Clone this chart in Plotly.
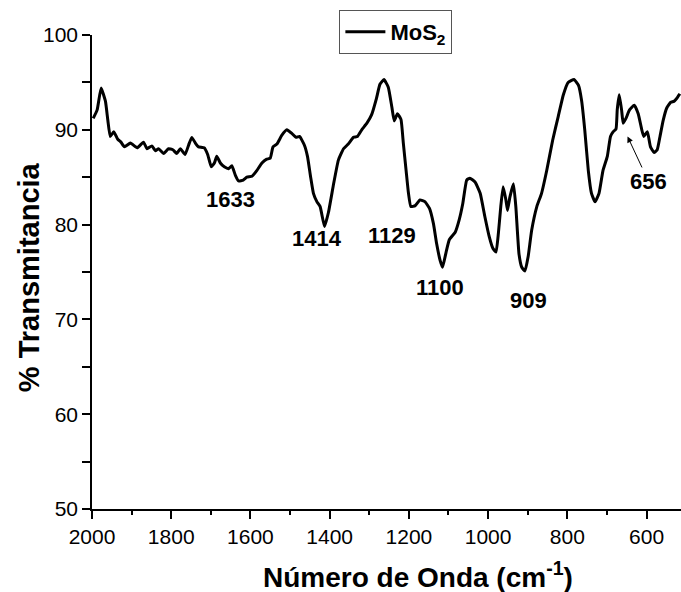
import plotly.graph_objects as go

wavenumber = [1997, 1987, 1977, 1966, 1960, 1954, 1945, 1935, 1927, 1918, 1903, 1886, 1870, 1861,
              1849, 1840, 1832, 1819, 1807, 1796, 1786, 1777, 1765, 1756, 1748, 1739, 1731, 1717,
              1708, 1699, 1691, 1685, 1676, 1666, 1655, 1647, 1638, 1630, 1618, 1609, 1596, 1584,
              1571, 1559, 1550, 1543, 1533, 1521, 1508, 1495, 1485, 1476, 1464, 1456, 1448, 1441,
              1432, 1424, 1413, 1403, 1390, 1378, 1365, 1353, 1340, 1330, 1319, 1306, 1294, 1282,
              1273, 1263, 1252, 1243, 1237, 1229, 1220, 1214, 1207, 1201, 1195, 1184, 1172, 1159,
              1148, 1138, 1130, 1121, 1115, 1106, 1098, 1083, 1073, 1064, 1054, 1046, 1033, 1020,
              1008, 997, 988, 980, 974, 968, 962, 955, 951, 945, 936, 930, 922, 915, 907, 899,
              890, 877, 865, 852, 837, 823, 810, 798, 783, 772, 764, 756, 747, 739, 730, 720,
              710, 699, 691, 684, 677, 674, 669, 663, 659, 652, 643, 631, 621, 612, 607, 598,
              590, 581, 573, 566, 558, 549, 539, 531, 524, 516]
transmittance = [91.2, 92.1, 94.4, 93.0, 91.0, 89.3, 89.8, 89.0, 88.7, 88.2, 88.6, 88.1, 88.7, 88.0,
                 88.3, 87.8, 88.0, 87.5, 88.0, 87.9, 87.5, 88.0, 87.4, 88.4, 89.2, 88.6, 88.2, 88.1,
                 87.4, 86.1, 86.5, 87.2, 86.5, 86.1, 85.9, 86.2, 85.2, 84.6, 84.7, 85.0, 85.1, 85.7,
                 86.5, 86.9, 87.0, 88.2, 88.5, 89.4, 90.0, 89.6, 89.2, 89.3, 88.4, 87.2, 85.0, 83.3,
                 82.4, 81.9, 79.8, 81.3, 84.3, 86.8, 88.0, 88.5, 89.2, 89.3, 90.0, 90.7, 91.6, 93.3,
                 94.8, 95.3, 94.5, 92.4, 90.95, 91.7, 91.1, 88.6, 85.7, 83.3, 81.9, 82.0, 82.6, 82.4,
                 81.7, 80.1, 78.0, 76.2, 75.5, 77.1, 78.4, 79.2, 80.5, 82.2, 84.7, 84.9, 84.5, 83.3,
                 80.8, 78.7, 77.5, 77.1, 79.1, 81.9, 84.0, 82.6, 81.5, 82.9, 84.3, 81.9, 76.9, 75.5, 75.1, 76.6,
                 79.4, 81.9, 83.3, 85.7, 88.9, 91.4, 93.7, 95.0, 95.3, 94.7, 93.1, 90.0, 85.7, 83.3, 82.4, 83.3,
                 85.7, 87.2, 89.3, 89.8, 90.1, 92.1, 93.7, 92.1, 90.7, 91.2, 92.1, 92.6, 91.7, 90.0, 89.3, 89.8,
                 88.2, 87.6, 87.9, 89.3, 91.0, 92.3, 92.9, 93.0, 93.3, 93.8]

peak_labels = ["1633", "1414", "1129", "1100", "909"]
peak_label_x = [1651, 1431, 1243, 1121, 899]
peak_label_y = [82.6, 78.5, 78.8, 73.4, 72.0]

arrow_label = "656"
arrow_tip = (648, 89.3)

x_ticks = [2000, 1800, 1600, 1400, 1200, 1000, 800, 600]
y_ticks = [50, 60, 70, 80, 90, 100]

FONT = "Liberation Sans, Arial, sans-serif"

fig = go.Figure()
fig.add_trace(go.Scatter(
    x=wavenumber, y=transmittance, mode="lines",
    line=dict(color="black", width=3, shape="spline", smoothing=0.4),
    name="<b>MoS<sub>2</sub></b>",
))

for t, x, y in zip(peak_labels, peak_label_x, peak_label_y):
    fig.add_annotation(x=x, y=y, text=f"<b>{t}</b>", showarrow=False,
                       font=dict(family=FONT, size=22, color="black"))

fig.add_annotation(x=arrow_tip[0], y=arrow_tip[1], text=f"<b>{arrow_label}</b>",
                   showarrow=True, ax=21, ay=45, arrowhead=2, arrowsize=1.2,
                   arrowwidth=1, arrowcolor="black",
                   font=dict(family=FONT, size=22, color="black"))

# axis titles
fig.add_annotation(xref="paper", yref="paper", x=0.554, y=-0.139,
                   text="<b>Número de Onda (cm<sup>-1</sup>)</b>", showarrow=False,
                   xanchor="center", yanchor="middle",
                   font=dict(family=FONT, size=28, color="black"))
fig.add_annotation(xref="paper", yref="paper", x=-0.108, y=0.49,
                   text="<b>% Transmitancia</b>", showarrow=False, textangle=-90,
                   xanchor="center", yanchor="middle",
                   font=dict(family=FONT, size=29, color="black"))

fig.update_layout(
    width=681, height=592,
    margin=dict(l=92, r=0, t=35, b=83),
    plot_bgcolor="white", paper_bgcolor="white",
    font=dict(family=FONT, color="black"),
    showlegend=True,
    legend=dict(x=0.42, y=1.053, xanchor="left", yanchor="top",
                bgcolor="white", bordercolor="#555", borderwidth=1,
                font=dict(family=FONT, size=22, color="black"),
                itemwidth=40, tracegroupgap=0),
    xaxis=dict(range=[2000, 513], tickvals=x_ticks, ticks="outside", ticklen=8,
               tickwidth=1.5, tickcolor="black", showline=True, linecolor="black",
               linewidth=1.5, showgrid=False, zeroline=False,
               tickfont=dict(family=FONT, size=21, color="black"),
               minor=dict(dtick=100, ticks="outside", ticklen=4, tickcolor="black", tickwidth=1.5),
               automargin=False),
    yaxis=dict(range=[50, 100], tickvals=y_ticks, ticks="outside", ticklen=8,
               tickwidth=1.5, tickcolor="black", showline=True, linecolor="black",
               linewidth=1.5, showgrid=False, zeroline=False,
               tickfont=dict(family=FONT, size=21, color="black"),
               minor=dict(dtick=5, ticks="outside", ticklen=8, tickcolor="black", tickwidth=1.5),
               automargin=False),
)

fig.write_html("out.html")
